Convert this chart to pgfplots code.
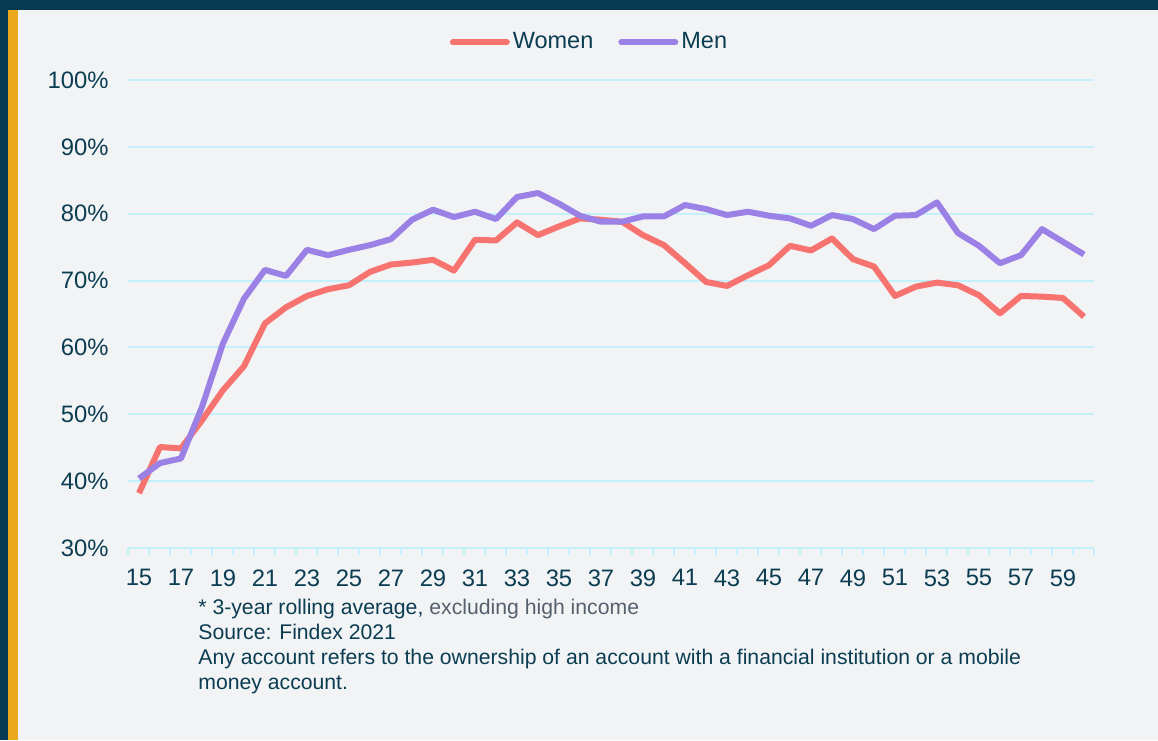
\documentclass[border=0pt]{standalone}
\usepackage{pgfplots}
\pgfplotsset{compat=1.18}
\usepackage{fontspec}
\setmainfont{Liberation Sans}
\definecolor{navy}{RGB}{6,58,82}
\definecolor{gold}{RGB}{236,168,28}
\definecolor{bgc}{RGB}{242,243,244}
\definecolor{womenc}{RGB}{246,115,112}
\definecolor{menc}{RGB}{155,129,230}
\definecolor{gridc}{RGB}{196,240,252}
\definecolor{txtc}{RGB}{11,61,82}
\definecolor{graytxt}{RGB}{85,96,110}
\begin{document}
\begin{tikzpicture}
\fill[bgc] (0pt,0pt) rectangle (579pt,370pt);
\fill[navy] (0pt,364.75pt) rectangle (579pt,370pt);
\fill[navy] (0pt,0pt) rectangle (4pt,370pt);
\fill[gold] (4pt,0pt) rectangle (9pt,364.75pt);
\useasboundingbox (0pt,0pt) rectangle (579pt,370pt);
\begin{axis}[
  at={(64.25pt,96pt)}, anchor=south west,
  scale only axis, width=483pt, height=234pt,
  xmin=14.5, xmax=60.5, ymin=30, ymax=100,
  axis x line*=bottom, axis y line*=left,
  x axis line style={color=gridc, line width=1pt, -},
  y axis line style={draw=none},
  ytick={30,40,...,100},
  major y tick style={draw=none},
  ymajorgrids, grid style={color=gridc, line width=1pt},
  yticklabel={\pgfmathprintnumber{\tick}\%},
  xtick={15,17,...,59},
  minor xtick={14.5,15.5,...,60.5},
  major x tick style={draw=none},
  minor x tick style={color=gridc, line width=1pt},
  minor tick length=3.5pt,
  xtick align=outside,
  /pgf/number format/assume math mode=true,
  tick label style={font=\fontsize{11.9}{14}\selectfont, text=txtc},
  yticklabel style={xshift=-6.5pt},
  xticklabel style={yshift=-3pt},
  legend columns=2,
  legend style={at={(axis description cs:0.4777,1.081)}, anchor=center,
    draw=none, fill=none, font=\fontsize{11.75}{14}\selectfont, text=txtc,
    /tikz/every even column/.append style={column sep=11pt},
    nodes={inner xsep=1.5pt}},
  legend image code/.code={\draw[#1, line cap=round] (0pt,0pt) -- (27pt,0pt);},
  every axis plot/.append style={line width=3pt, line join=round, mark=none},
]
\addplot[womenc] coordinates {
(15,38.2)(16,45.1)(17,44.9)(18,49.1)(19,53.6)(20,57.2)(21,63.6)(22,66.0)(23,67.7)(24,68.7)
(25,69.3)(26,71.3)(27,72.4)(28,72.7)(29,73.1)(30,71.5)(31,76.1)(32,76.0)(33,78.7)(34,76.8)
(35,78.1)(36,79.3)(37,79.1)(38,78.8)(39,76.8)(40,75.3)(41,72.6)(42,69.8)(43,69.2)(44,70.8)
(45,72.3)(46,75.2)(47,74.5)(48,76.3)(49,73.2)(50,72.1)(51,67.7)(52,69.1)(53,69.7)(54,69.3)
(55,67.8)(56,65.1)(57,67.7)(58,67.6)(59,67.4)(60,64.6)
};
\addlegendentry{Women}
\addplot[menc] coordinates {
(15,40.4)(16,42.7)(17,43.4)(18,51.1)(19,60.6)(20,67.3)(21,71.6)(22,70.7)(23,74.6)(24,73.8)
(25,74.6)(26,75.3)(27,76.2)(28,79.1)(29,80.6)(30,79.5)(31,80.3)(32,79.2)(33,82.5)(34,83.1)
(35,81.5)(36,79.7)(37,78.8)(38,78.8)(39,79.6)(40,79.6)(41,81.3)(42,80.7)(43,79.8)(44,80.3)
(45,79.7)(46,79.3)(47,78.2)(48,79.8)(49,79.2)(50,77.7)(51,79.7)(52,79.8)(53,81.7)(54,77.1)
(55,75.2)(56,72.6)(57,73.8)(58,77.7)(59,75.8)(60,73.9)
};
\addlegendentry{Men}
\end{axis}
\node[anchor=north west, inner sep=0pt, align=left, text=txtc,
  font=\fontsize{10.6}{12.5}\selectfont] at (99pt,70.5pt)
  {* 3-year rolling average, {\color{graytxt}excluding high income}\\
   Source: Findex 2021\\
   Any account refers to the ownership of an account with a financial institution or a mobile\\
   money account.};
\end{tikzpicture}
\end{document}
